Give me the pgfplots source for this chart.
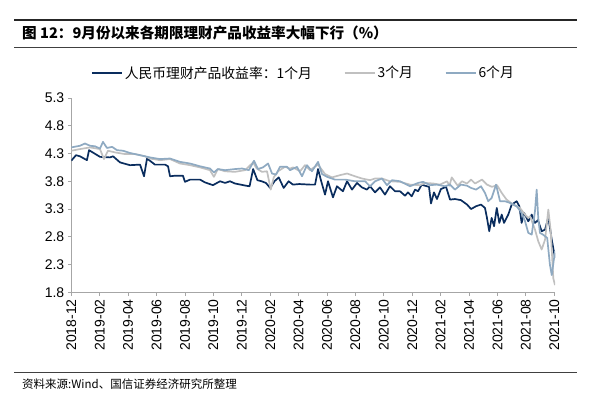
\documentclass[border=0pt]{standalone}
\usepackage{pgfplots}
\pgfplotsset{compat=1.18}
\usepackage{fontspec}
\setmainfont{Liberation Sans}
\newfontfamily\cjk{Noto Sans CJK SC}
\definecolor{c1m}{HTML}{0A2D5E}
\definecolor{c3m}{HTML}{C0C0C0}
\definecolor{c6m}{HTML}{8FAAC2}
\definecolor{axgray}{HTML}{A6A6A6}
\begin{document}
\begin{tikzpicture}[x=1pt,y=1pt]
\path[use as bounding box] (0,0) rectangle (593,397);
\draw[line width=1.3pt, black!85] (14,377) -- (577,377);
\node[anchor=west, inner sep=0pt, font=\cjk\bfseries\fontsize{14.6}{16}\selectfont] at (22,364) {图 12：9月份以来各期限理财产品收益率大幅下行（\%）};
\draw[line width=0.8pt, black!75] (14,350) -- (577,350);
\draw[line width=0.8pt, black!75] (14,25) -- (577,25);
\node[anchor=west, inner sep=0pt, font=\cjk\fontsize{11.5}{13}\selectfont] at (22,13) {资料来源:Wind、国信证券经济研究所整理};
\begin{axis}[
  at={(71.3pt,104.7pt)}, anchor=south west,
  scale only axis, width=483.7pt, height=194.3pt,
  xmin=0, xmax=34.05, ymin=1.8, ymax=5.3,
  axis x line*=bottom, axis y line*=left,
  axis line style={draw=axgray, line width=0.8pt},
  tick style={draw=axgray, line width=0.8pt},
  tick align=outside, major tick length=3.5pt,
  xtick={0,2,...,34},
  xticklabels={2018-12,2019-02,2019-04,2019-06,2019-08,2019-10,2019-12,2020-02,2020-04,2020-06,2020-08,2020-10,2020-12,2021-02,2021-04,2021-06,2021-08,2021-10},
  x tick label style={rotate=90, anchor=east, font=\fontsize{14}{14}\selectfont},
  ytick={1.8,2.3,2.8,3.3,3.8,4.3,4.8,5.3},
  yticklabel style={font=\fontsize{14}{14}\selectfont, /pgf/number format/fixed, /pgf/number format/precision=1, /pgf/number format/fixed zerofill},
  /pgf/number format/assume math mode=true,
  legend columns=3,
  legend style={at={(0.48,1.129)}, anchor=center, draw=none, fill=none,
    font=\cjk\fontsize{13.8}{15}\selectfont,
    /tikz/every even column/.append style={column sep=30pt}},
  legend image code/.code={\draw[#1] (0pt,0pt) -- (30pt,0pt);},
  every axis plot/.append style={line width=1.7pt, line join=round},
]
\addplot[c1m] coordinates {(0,4.17) (0.33,4.27) (0.61,4.25) (1.1,4.18) (1.25,4.36) (2.02,4.24) (2.72,4.23) (2.94,4.25) (3.43,4.14) (4.13,4.09) (4.84,4.1) (5.12,3.89) (5.33,4.21) (5.89,4.1) (6.6,4.1) (6.81,4.07) (6.95,3.89) (7.3,3.9) (7.86,3.9) (8.0,3.79) (8.36,3.83) (9.06,3.83) (9.41,3.78) (9.97,3.73) (10.47,3.8) (10.82,3.77) (11.17,3.8) (11.52,3.76) (12.3,3.72) (12.55,3.71) (12.8,4.02) (13.1,3.82) (13.4,3.8) (13.7,3.77) (14.0,3.68) (14.3,3.8) (14.6,3.87) (14.95,3.68) (15.3,3.8) (15.6,3.74) (16.05,3.75) (16.8,3.74) (17.16,3.74) (17.37,4.02) (17.56,3.83) (17.86,3.56) (18.07,3.8) (18.42,3.51) (18.7,3.71) (19.12,3.62) (19.41,3.8) (19.76,3.65) (20.11,3.77) (20.46,3.69) (20.81,3.65) (21.03,3.71) (21.38,3.6) (21.73,3.69) (22.08,3.56) (22.43,3.71) (22.79,3.62) (23.14,3.62) (23.49,3.54) (23.7,3.6) (23.96,3.53) (24.2,3.65) (24.41,3.62) (24.67,3.74) (24.9,3.72) (25.18,3.7) (25.32,3.4) (25.53,3.6) (25.74,3.48) (26.02,3.66) (26.38,3.7) (26.66,3.47) (27.01,3.48) (27.43,3.46) (27.86,3.38) (28.14,3.3) (28.49,3.35) (28.84,3.38) (29.12,3.32) (29.26,3.14) (29.42,2.9) (29.59,3.14) (29.76,2.99) (29.95,3.32) (30.13,3.05) (30.3,3.2) (30.46,3.05) (30.76,3.2) (31.0,3.38) (31.35,3.44) (31.54,3.35) (31.7,3.05) (31.87,3.23) (32.17,3.08) (32.41,3.2) (32.64,3.05) (32.85,3.1) (33.11,2.9) (33.35,2.93) (33.58,3.15) (33.82,2.75) (34.05,2.42)};
\addlegendentry{人民币理财产品收益率：1个月}
\addplot[c3m] coordinates {(0,4.35) (0.61,4.38) (1.32,4.41) (2.02,4.38) (2.3,4.2) (2.58,4.35) (3.08,4.32) (3.78,4.29) (4.48,4.29) (5.19,4.25) (5.54,4.21) (6.24,4.18) (6.95,4.2) (7.65,4.12) (8.36,4.09) (9.06,4.05) (9.76,4.0) (10.04,3.88) (10.32,4.02) (10.82,3.98) (11.52,3.97) (12.23,4.0) (12.8,4.14) (13.05,4.03) (13.42,3.97) (13.78,3.98) (14.04,3.65) (14.25,3.87) (14.55,3.98) (15.04,4.06) (15.4,4.03) (15.61,4.05) (16.1,3.98) (16.45,4.09) (16.8,4.0) (17.37,4.1) (17.86,3.93) (18.35,3.87) (18.91,3.91) (19.41,3.94) (19.97,3.89) (20.46,3.85) (21.03,3.82) (21.38,3.85) (21.87,3.85) (22.43,3.8) (23.14,3.79) (23.84,3.74) (24.55,3.73) (24.9,3.77) (25.47,3.76) (25.95,3.74) (26.45,3.8) (26.62,3.72) (26.78,3.87) (27.2,3.72) (27.5,3.8) (27.85,3.76) (28.14,3.83) (28.42,3.76) (28.91,3.83) (29.26,3.74) (29.61,3.7) (29.97,3.73) (30.3,3.59) (30.64,3.47) (31.11,3.38) (31.58,3.32) (31.94,3.2) (32.17,3.14) (32.29,3.17) (32.64,2.93) (32.87,2.72) (33.11,2.57) (33.35,2.75) (33.58,3.29) (33.75,2.9) (33.93,2.05) (34.05,1.93)};
\addlegendentry{3个月}
\addplot[c6m] coordinates {(0,4.41) (0.61,4.44) (0.96,4.48) (1.32,4.44) (1.67,4.43) (2.02,4.39) (2.23,4.51) (2.51,4.4) (2.87,4.42) (3.22,4.36) (3.64,4.35) (4.13,4.31) (4.84,4.27) (5.54,4.23) (6.24,4.2) (6.95,4.21) (7.65,4.15) (8.36,4.12) (9.06,4.07) (9.76,4.03) (10.04,3.96) (10.32,4.02) (10.82,4.0) (11.52,4.02) (12.02,4.03) (12.5,4.0) (12.86,4.17) (13.14,4.02) (13.49,4.05) (13.85,4.12) (14.13,3.94) (14.41,3.92) (14.69,4.06) (15.18,4.06) (15.4,4.0) (15.89,4.06) (16.24,3.89) (16.59,4.09) (16.94,3.98) (17.37,4.15) (17.65,3.93) (18.0,3.88) (18.56,3.83) (19.27,3.83) (19.97,3.8) (20.68,3.8) (21.03,3.71) (21.38,3.8) (21.87,3.85) (22.22,3.73) (22.58,3.82) (23.14,3.8) (23.84,3.71) (24.41,3.77) (24.76,3.79) (25.26,3.73) (25.74,3.74) (26.31,3.71) (26.66,3.74) (27.01,3.65) (27.43,3.74) (27.86,3.72) (28.14,3.68) (28.49,3.65) (28.84,3.71) (29.12,3.59) (29.35,3.44) (29.59,3.5) (29.9,3.74) (30.18,3.44) (30.53,3.44) (30.88,3.41) (31.35,3.35) (31.7,3.23) (31.94,3.08) (32.17,2.87) (32.41,2.84) (32.64,3.26) (32.76,3.65) (32.87,3.14) (32.99,2.87) (33.2,2.84) (33.5,2.78) (33.69,2.3) (33.82,2.11) (34.05,2.54)};
\addlegendentry{6个月}
\end{axis}
\end{tikzpicture}
\end{document}
